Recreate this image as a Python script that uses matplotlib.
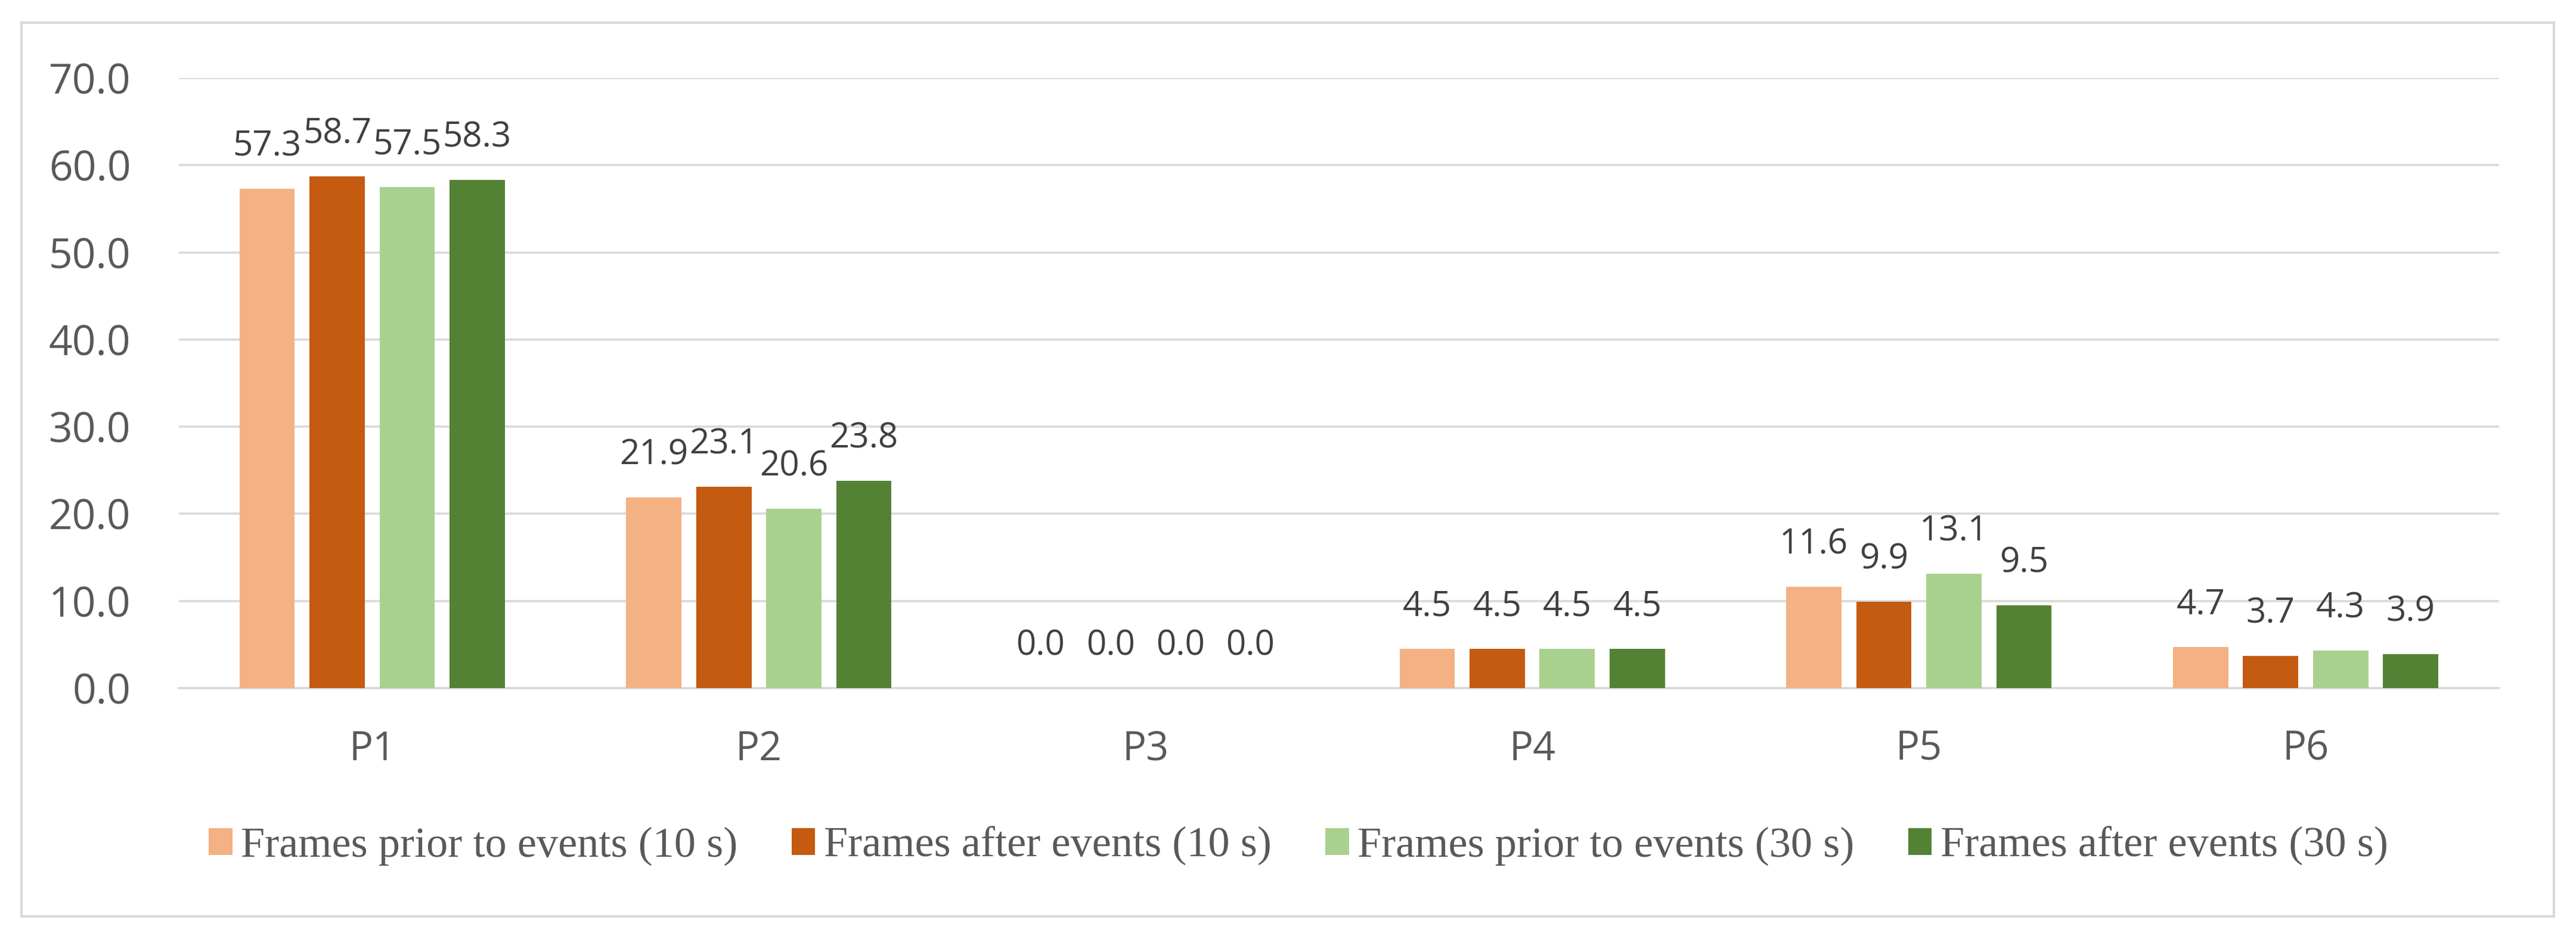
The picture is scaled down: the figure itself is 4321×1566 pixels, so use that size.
import numpy as np
import matplotlib
matplotlib.use("Agg")
import matplotlib.pyplot as plt
from matplotlib.patches import Patch, Rectangle

categorias = ["P1", "P2", "P3", "P4", "P5", "P6"]
series = ["Frames prior to events (10 s)", "Frames after events (10 s)",
          "Frames prior to events (30 s)", "Frames after events (30 s)"]
antes_10 = [57.3, 21.9, 0.0, 4.5, 11.6, 4.7]
despues_10 = [58.7, 23.1, 0.0, 4.5, 9.9, 3.7]
antes_30 = [57.5, 20.6, 0.0, 4.5, 13.1, 4.3]
despues_30 = [58.3, 23.8, 0.0, 4.5, 9.5, 3.9]
colores = ["#F4B183", "#C55A11", "#A9D18E", "#548235"]

datos = [antes_10, despues_10, antes_30, despues_30]

figura = plt.figure(figsize=(43.21, 15.66), dpi=100)
ax = figura.add_axes([0.0694, 0.2625, 0.9007, 0.6538])

x = np.arange(len(categorias))
ancho = 0.143
paso = 0.181

for k, valores in enumerate(datos):
    pos = x + (k - 1.5) * paso
    ax.bar(pos, valores, ancho, color=colores[k], zorder=3)
    for xi, v in zip(pos, valores):
        ax.annotate("%.1f" % v, (xi, v), xytext=(0, 40), textcoords="offset points",
                    ha="center", va="baseline", fontsize=42, color="#404040",
                    family="Open Sans")

ax.set_xlim(-0.5, len(categorias) - 0.5)
ax.set_ylim(0, 70)
ax.set_yticks(np.arange(0, 71, 10))
ax.set_yticklabels(["%.1f" % t for t in np.arange(0, 71, 10)])
ax.set_xticks(x)
ax.set_xticklabels(categorias)
ax.tick_params(axis="y", length=0, pad=58, labelsize=50, labelcolor="#595959")
ax.tick_params(axis="x", length=0, pad=50, labelsize=48, labelcolor="#595959")
for t in ax.get_xticklabels() + ax.get_yticklabels():
    t.set_family("Open Sans")

ax.grid(axis="y", color="#d9d9d9", linewidth=2.6, zorder=0)
for lado in ["top", "right", "left"]:
    ax.spines[lado].set_visible(False)
ax.spines["bottom"].set_color("#d9d9d9")
ax.spines["bottom"].set_linewidth(2.6)

manejadores = [Patch(facecolor=c) for c in colores]
figura.legend(manejadores, series, loc="center", bbox_to_anchor=(0.504, 1 - 1420 / 1566),
              ncol=4, frameon=False, handlelength=0.55, handleheight=0.58,
              handletextpad=0.2, columnspacing=1.25,
              prop={"family": "Liberation Serif", "size": 52}, labelcolor="#595959")

borde = Rectangle((36 / 4321, 1 - 1538 / 1566), (4284 - 36) / 4321, (1538 - 38) / 1566,
                  transform=figura.transFigure, fill=False, edgecolor="#d9d9d9", linewidth=3)
figura.patches.append(borde)

plt.savefig("out.png", dpi=100)
